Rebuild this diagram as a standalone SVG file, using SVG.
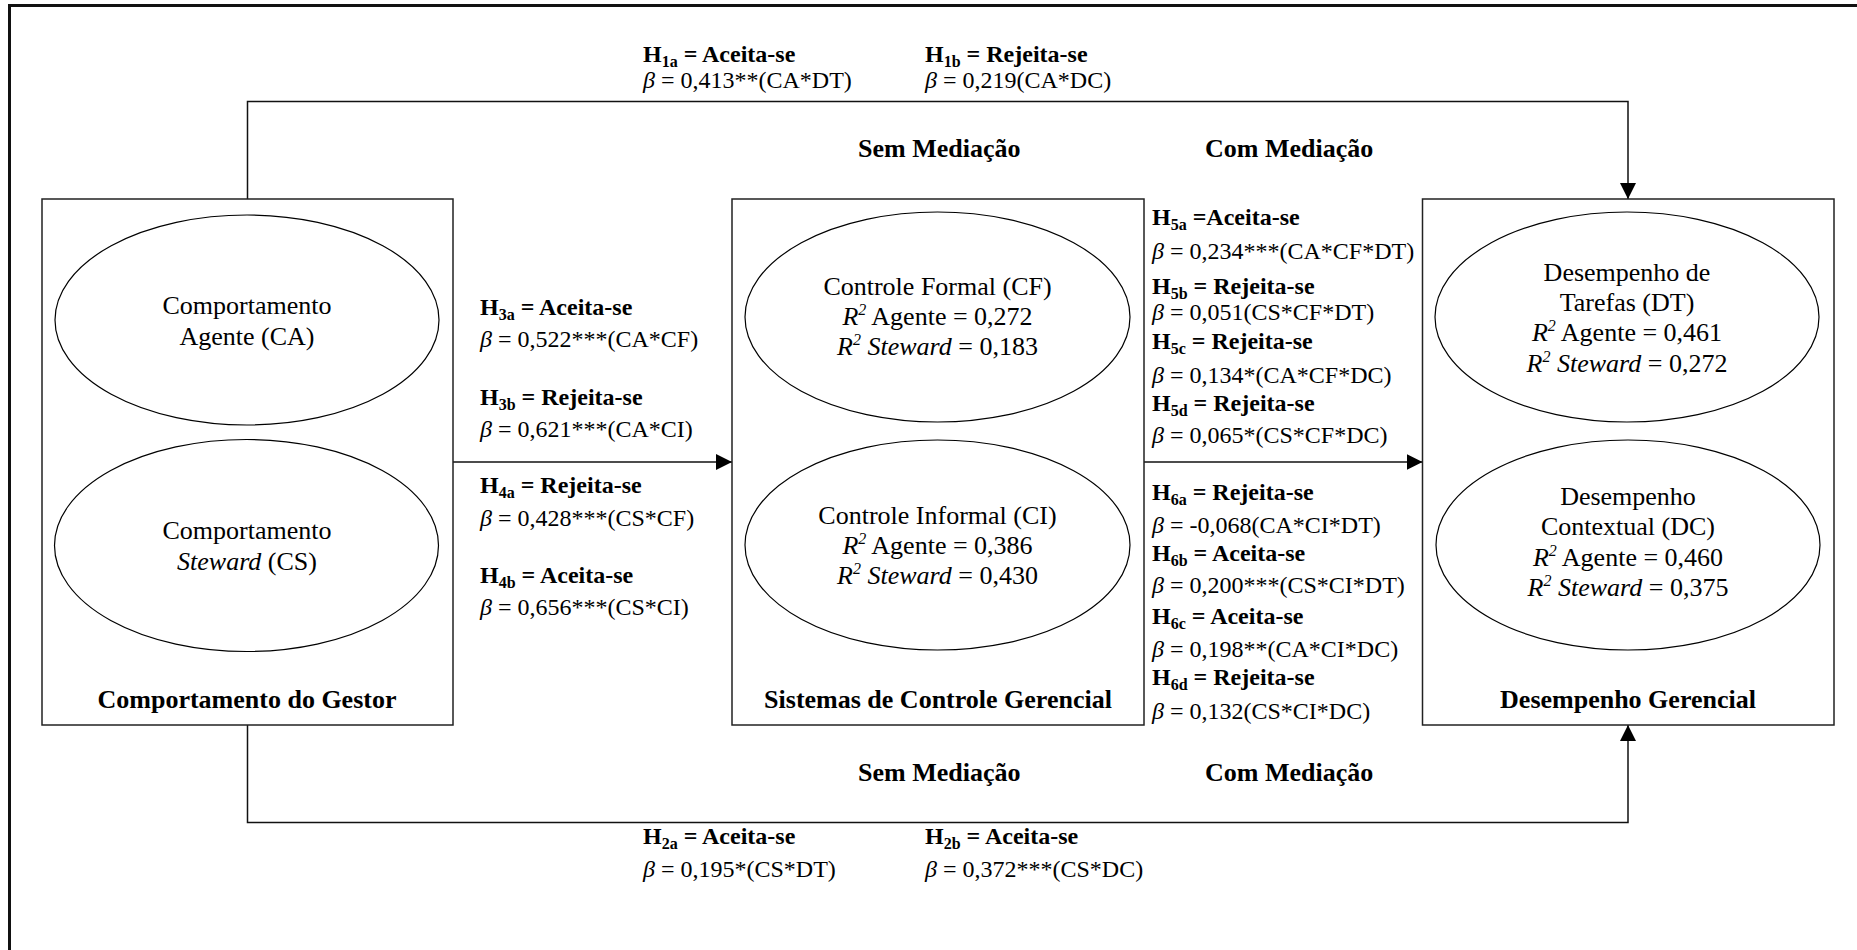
<svg xmlns="http://www.w3.org/2000/svg" width="1857" height="950" viewBox="0 0 1857 950">
  <style>
    text { font-family: "Liberation Serif", "Times New Roman", serif; fill: #000; }
    .node { font-size: 26px; text-anchor: middle; }
    .title { font-size: 26px; font-weight: bold; text-anchor: middle; }
    .lbl { font-size: 24px; }
    .hyp { font-size: 24px; font-weight: bold; }
    .med { font-size: 26px; font-weight: bold; }
    .sub { font-size: 16px; }
    .it { font-style: italic; }
    .box { fill: #fff; stroke: #222; stroke-width: 1.5; }
    .ell { fill: none; stroke: #000; stroke-width: 1.2; }
    .link { fill: none; stroke: #111; stroke-width: 1.5; }
  </style>
  <defs>
    <marker id="arrow" viewBox="0 0 16 16" refX="16" refY="8" markerWidth="16" markerHeight="16" markerUnits="userSpaceOnUse" orient="auto">
      <path d="M0,0 L16,8 L0,16 Z" fill="#000"/>
    </marker>
  </defs>

  <rect width="1857" height="950" fill="#fff"/>
  <!-- outer frame (right and bottom edges fall outside the page) -->
  <path d="M9.5,960 V5.5 H1870" fill="none" stroke="#111" stroke-width="3"/>

  <!-- connectors -->
  <g id="connectors">
    <path class="link" d="M247.5,199 V101.5 H1628 V199" marker-end="url(#arrow)"/>
    <path class="link" d="M247.5,725 V822.5 H1628 V725" marker-end="url(#arrow)"/>
    <path class="link" d="M453,462 H732" marker-end="url(#arrow)"/>
    <path class="link" d="M1144,462 H1422.5" marker-end="url(#arrow)"/>
  </g>

  <!-- Comportamento do Gestor -->
  <g id="node-gestor">
    <rect class="box" x="42" y="199" width="411" height="526"/>
    <ellipse class="ell" cx="247" cy="320" rx="192" ry="105"/>
    <text class="node" x="247" y="314">Comportamento</text>
    <text class="node" x="247" y="345">Agente (CA)</text>
    <ellipse class="ell" cx="246.5" cy="545.5" rx="192" ry="106"/>
    <text class="node" x="247" y="539">Comportamento</text>
    <text class="node" x="247" y="570"><tspan class="it">Steward</tspan> (CS)</text>
    <text class="title" x="247" y="708">Comportamento do Gestor</text>
  </g>

  <!-- Sistemas de Controle Gerencial -->
  <g id="node-scg">
    <rect class="box" x="732" y="199" width="412" height="526"/>
    <ellipse class="ell" cx="937.5" cy="317" rx="192.5" ry="105"/>
    <text class="node" x="937.5" y="295">Controle Formal (CF)</text>
    <text class="node" x="937.5" y="325"><tspan class="it">R</tspan><tspan class="it" font-size="16" dy="-10">2</tspan><tspan dy="10"> Agente = 0,272</tspan></text>
    <text class="node" x="937.5" y="355"><tspan class="it">R</tspan><tspan class="it" font-size="16" dy="-10">2</tspan><tspan class="it" dy="10"> Steward</tspan> = 0,183</text>
    <ellipse class="ell" cx="937.5" cy="545" rx="192.5" ry="105"/>
    <text class="node" x="937.5" y="524">Controle Informal (CI)</text>
    <text class="node" x="937.5" y="554"><tspan class="it">R</tspan><tspan class="it" font-size="16" dy="-10">2</tspan><tspan dy="10"> Agente = 0,386</tspan></text>
    <text class="node" x="937.5" y="584"><tspan class="it">R</tspan><tspan class="it" font-size="16" dy="-10">2</tspan><tspan class="it" dy="10"> Steward</tspan> = 0,430</text>
    <text class="title" x="938" y="708">Sistemas de Controle Gerencial</text>
  </g>

  <!-- Desempenho Gerencial -->
  <g id="node-desempenho">
    <rect class="box" x="1422.5" y="199" width="411.5" height="526"/>
    <ellipse class="ell" cx="1627" cy="317" rx="192" ry="105"/>
    <text class="node" x="1627" y="281">Desempenho de</text>
    <text class="node" x="1627" y="311">Tarefas (DT)</text>
    <text class="node" x="1627" y="341"><tspan class="it">R</tspan><tspan class="it" font-size="16" dy="-10">2</tspan><tspan dy="10"> Agente = 0,461</tspan></text>
    <text class="node" x="1627" y="372"><tspan class="it">R</tspan><tspan class="it" font-size="16" dy="-10">2</tspan><tspan class="it" dy="10"> Steward</tspan> = 0,272</text>
    <ellipse class="ell" cx="1628" cy="545" rx="192" ry="105"/>
    <text class="node" x="1628" y="505">Desempenho</text>
    <text class="node" x="1628" y="535">Contextual (DC)</text>
    <text class="node" x="1628" y="566"><tspan class="it">R</tspan><tspan class="it" font-size="16" dy="-10">2</tspan><tspan dy="10"> Agente = 0,460</tspan></text>
    <text class="node" x="1628" y="596"><tspan class="it">R</tspan><tspan class="it" font-size="16" dy="-10">2</tspan><tspan class="it" dy="10"> Steward</tspan> = 0,375</text>
    <text class="title" x="1628" y="708">Desempenho Gerencial</text>
  </g>

  <!-- hypothesis labels: direct paths (top) -->
  <g id="labels-top">
    <text class="hyp" x="643" y="62">H<tspan class="sub" dy="5">1a</tspan><tspan dy="-5"> = Aceita-se</tspan></text>
    <text class="lbl" x="643" y="88"><tspan class="it">β</tspan> = 0,413**(CA*DT)</text>
    <text class="hyp" x="925" y="62">H<tspan class="sub" dy="5">1b</tspan><tspan dy="-5"> = Rejeita-se</tspan></text>
    <text class="lbl" x="925" y="88"><tspan class="it">β</tspan> = 0,219(CA*DC)</text>
    <text class="med" x="858" y="157">Sem Mediação</text>
    <text class="med" x="1205" y="157">Com Mediação</text>
  </g>

  <!-- hypothesis labels: behaviour to control systems -->
  <g id="labels-h3-h4">
    <text class="hyp" x="480" y="315">H<tspan class="sub" dy="5">3a</tspan><tspan dy="-5"> = Aceita-se</tspan></text>
    <text class="lbl" x="480" y="347"><tspan class="it">β</tspan> = 0,522***(CA*CF)</text>
    <text class="hyp" x="480" y="405">H<tspan class="sub" dy="5">3b</tspan><tspan dy="-5"> = Rejeita-se</tspan></text>
    <text class="lbl" x="480" y="437"><tspan class="it">β</tspan> = 0,621***(CA*CI)</text>
    <text class="hyp" x="480" y="493">H<tspan class="sub" dy="5">4a</tspan><tspan dy="-5"> = Rejeita-se</tspan></text>
    <text class="lbl" x="480" y="526"><tspan class="it">β</tspan> = 0,428***(CS*CF)</text>
    <text class="hyp" x="480" y="583">H<tspan class="sub" dy="5">4b</tspan><tspan dy="-5"> = Aceita-se</tspan></text>
    <text class="lbl" x="480" y="615"><tspan class="it">β</tspan> = 0,656***(CS*CI)</text>
  </g>

  <!-- hypothesis labels: mediated paths -->
  <g id="labels-h5-h6">
    <text class="hyp" x="1152" y="225">H<tspan class="sub" dy="5">5a</tspan><tspan dy="-5"> =Aceita-se</tspan></text>
    <text class="lbl" x="1152" y="259"><tspan class="it">β</tspan> = 0,234***(CA*CF*DT)</text>
    <text class="hyp" x="1152" y="294">H<tspan class="sub" dy="5">5b</tspan><tspan dy="-5"> = Rejeita-se</tspan></text>
    <text class="lbl" x="1152" y="320"><tspan class="it">β</tspan> = 0,051(CS*CF*DT)</text>
    <text class="hyp" x="1152" y="349">H<tspan class="sub" dy="5">5c</tspan><tspan dy="-5"> = Rejeita-se</tspan></text>
    <text class="lbl" x="1152" y="383"><tspan class="it">β</tspan> = 0,134*(CA*CF*DC)</text>
    <text class="hyp" x="1152" y="411">H<tspan class="sub" dy="5">5d</tspan><tspan dy="-5"> = Rejeita-se</tspan></text>
    <text class="lbl" x="1152" y="443"><tspan class="it">β</tspan> = 0,065*(CS*CF*DC)</text>
    <text class="hyp" x="1152" y="500">H<tspan class="sub" dy="5">6a</tspan><tspan dy="-5"> = Rejeita-se</tspan></text>
    <text class="lbl" x="1152" y="533"><tspan class="it">β</tspan> = -0,068(CA*CI*DT)</text>
    <text class="hyp" x="1152" y="561">H<tspan class="sub" dy="5">6b</tspan><tspan dy="-5"> = Aceita-se</tspan></text>
    <text class="lbl" x="1152" y="593"><tspan class="it">β</tspan> = 0,200***(CS*CI*DT)</text>
    <text class="hyp" x="1152" y="624">H<tspan class="sub" dy="5">6c</tspan><tspan dy="-5"> = Aceita-se</tspan></text>
    <text class="lbl" x="1152" y="657"><tspan class="it">β</tspan> = 0,198**(CA*CI*DC)</text>
    <text class="hyp" x="1152" y="685">H<tspan class="sub" dy="5">6d</tspan><tspan dy="-5"> = Rejeita-se</tspan></text>
    <text class="lbl" x="1152" y="719"><tspan class="it">β</tspan> = 0,132(CS*CI*DC)</text>
  </g>

  <!-- hypothesis labels: direct paths (bottom) -->
  <g id="labels-bottom">
    <text class="med" x="858" y="781">Sem Mediação</text>
    <text class="med" x="1205" y="781">Com Mediação</text>
    <text class="hyp" x="643" y="844">H<tspan class="sub" dy="5">2a</tspan><tspan dy="-5"> = Aceita-se</tspan></text>
    <text class="lbl" x="643" y="877"><tspan class="it">β</tspan> = 0,195*(CS*DT)</text>
    <text class="hyp" x="925" y="844">H<tspan class="sub" dy="5">2b</tspan><tspan dy="-5"> = Aceita-se</tspan></text>
    <text class="lbl" x="925" y="877"><tspan class="it">β</tspan> = 0,372***(CS*DC)</text>
  </g>
</svg>
